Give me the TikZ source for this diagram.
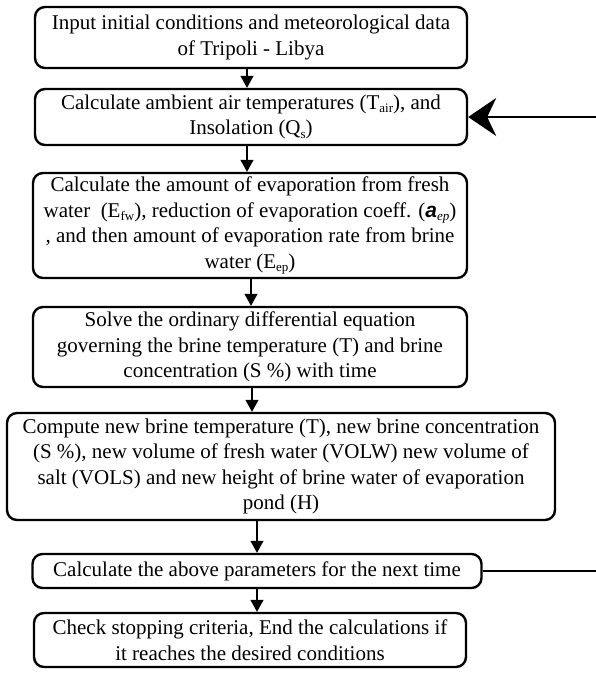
\documentclass[tikz,border=0pt]{standalone}
\usepackage{fontspec}
\setmainfont{Liberation Serif}
\newfontfamily\coefffont{Liberation Sans}
\usetikzlibrary{arrows.meta}
\newcommand\lowtxt[1]{\raisebox{-0.35ex}{\fontsize{13}{13}\selectfont #1}}
\tikzset{
  box/.style={draw, line width=2.4pt, rounded corners=10pt, align=center,
    inner sep=2pt, font=\fontsize{21}{25.5}\selectfont},
  arr/.style={line width=1.1pt, -{Triangle[length=12pt,width=13pt]}},
  back/.style={line width=1.6pt, -{Stealth[length=28pt,width=38pt,inset=9pt]}}
}
\begin{document}
\begin{tikzpicture}[x=1pt,y=-1pt]
      \useasboundingbox (0,0) rectangle (596,673);
      \draw
        (251,37.5) node[box, minimum width=432pt, minimum height=61pt] (0)
          {Input initial conditions and meteorological data\\of Tripoli - Libya}
        (251,117) node[box, minimum width=432pt, minimum height=56pt] (1)
          {Calculate ambient air temperatures (T\lowtxt{air}), and\\Insolation (Q\lowtxt{s})}
        (250,225.5) node[box, minimum width=434pt, minimum height=105pt] (2)
          {Calculate the amount of evaporation from fresh\\
           water~ (E\lowtxt{fw}), reduction of evaporation coeff. ({\coefffont\bfseries\itshape a}\lowtxt{\itshape ep})\\
           , and then amount of evaporation rate from brine\\water (E\lowtxt{ep})}
        (250,347) node[box, minimum width=434pt, minimum height=80pt] (3)
          {Solve the ordinary differential equation\\governing the brine temperature (T) and brine\\concentration (S \%) with time}
        (281,466.5) node[box, minimum width=548pt, minimum height=107pt] (4)
          {Compute new brine temperature (T), new brine concentration\\
           (S \%), new volume of fresh water (VOLW) new volume of\\
           salt (VOLS) and new height of brine water of evaporation\\pond (H)}
        (257,571) node[box, minimum width=449pt, minimum height=34pt] (5)
          {Calculate the above parameters for the next time}
        (250,640) node[box, minimum width=432pt, minimum height=54pt] (6)
          {Check stopping criteria, End the calculations if\\it reaches the desired conditions};
      % arrow columns
      \coordinate (c0) at (247,0);
      \coordinate (c1) at (247,0);
      \coordinate (c2) at (251,0);
      \coordinate (c3) at (252,0);
      \coordinate (c4) at (257,0);
      \coordinate (c5) at (257,0);
      \coordinate (turn) at (610,0);
      \begin{scope}[arr]
        \draw (0.south -| c0) to (1.north -| c0);
        \draw (1.south -| c1) to (2.north -| c1);
        \draw (2.south -| c2) to (3.north -| c2);
        \draw (3.south -| c3) to (4.north -| c3);
        \draw (4.south -| c4) to (5.north -| c4);
        \draw (5.south -| c5) to (6.north -| c5);
      \end{scope}
      % loop back for the next time step
      \draw[back] (5.east) -- (5.east -| turn) -- (1.east -| turn) -- (1.east);
    \end{tikzpicture}
\end{document}
